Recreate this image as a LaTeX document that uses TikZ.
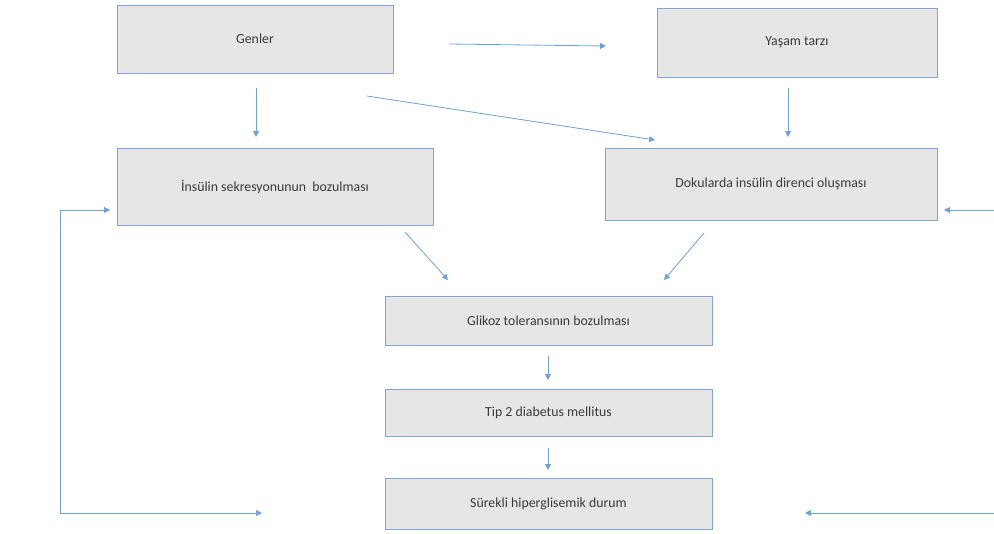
\documentclass[tikz,border=0pt]{standalone}
\usepackage{fontspec}
\setmainfont{Carlito}
\usetikzlibrary{arrows.meta, positioning}
\definecolor{boxfill}{HTML}{E6E6E6}
\definecolor{boxline}{HTML}{7FA6D2}
\definecolor{arrowblue}{HTML}{6FA3D8}
\definecolor{textgray}{HTML}{3A3A3A}

\begin{document}
\begin{tikzpicture}[x=0.3mm, y=-0.3mm,
		box/.style={draw=boxline, fill=boxfill, line width=0.8pt, text=textgray,
			font=\fontsize{11.8}{14}\selectfont, align=center, inner sep=0pt},
		arr/.style={draw=arrowblue, line width=0.7pt, -{Triangle[length=5pt, width=5pt]}}]
		% Page size
		\useasboundingbox (0,0) rectangle (994,533);
		
		% 1. Boxes
		\node[box, minimum width=82.8mm, minimum height=20.4mm] (genler) at (255,39) {Genler};
		\node[box, minimum width=84mm, minimum height=20.7mm] (yasam) at (797,42.5) {Yaşam tarzı};
		\node[box, minimum width=94.8mm, minimum height=23.1mm] (sekresyon) at (275,186.5) {İnsülin sekresyonunun\ \ bozulması};
		\node[box, minimum width=99.6mm, minimum height=21.6mm] (direnc) at (771,184) {Dokularda insülin direnci oluşması};
		\node[box, minimum width=98.1mm, minimum height=14.7mm] (glikoz) at (548.5,320.5) {Glikoz toleransının bozulması};
		\node[box, minimum width=98.1mm, minimum height=14.1mm] (tip) at (548.5,412.5) {Tip 2 diabetus mellitus};
		\node[box, minimum width=98.1mm, minimum height=15.3mm] (surekli) at (548.5,503.5) {Sürekli hiperglisemik durum};
		
		% 2. Arrow end points (arrows float between the boxes)
		\coordinate (g1) at (449,44);    \coordinate (y1) at (606,46);
		\coordinate (g2) at (256,88);    \coordinate (s1) at (256,137);
		\coordinate (g3) at (367,96);    \coordinate (d1) at (655,140);
		\coordinate (y2) at (788,88);    \coordinate (d2) at (788,137);
		\coordinate (s2) at (405,232);   \coordinate (k1) at (448,280);
		\coordinate (d3) at (704,233);   \coordinate (k2) at (664,280);
		\coordinate (k3) at (548,356);   \coordinate (t1) at (548,380);
		\coordinate (t2) at (548,448);   \coordinate (h1) at (548,470);
		
		\draw[arr] (g1) -- (y1);
		\draw[arr] (g2) -- (s1);
		\draw[arr] (g3) -- (d1);
		\draw[arr] (y2) -- (d2);
		\draw[arr] (s2) -- (k1);
		\draw[arr] (d3) -- (k2);
		\draw[arr] (k3) -- (t1);
		\draw[arr] (t2) -- (h1);
		
		% 3. Feedback lines
		\coordinate (lb) at (60,513);  \coordinate (lt) at (60,210);
		\coordinate (le) at (262,513); \coordinate (ls) at (110,210);
		\draw[arr] (lb) -- (le);
		\draw[arr] (lb) -- (lt) -- (ls);
		
		\coordinate (rb) at (994,513); \coordinate (re) at (805,513);
		\coordinate (rt) at (994,210); \coordinate (rs) at (944,210);
		\draw[arr] (rb) -- (re);
		\draw[arr] (rt) -- (rs);
		
	\end{tikzpicture}
\end{document}
